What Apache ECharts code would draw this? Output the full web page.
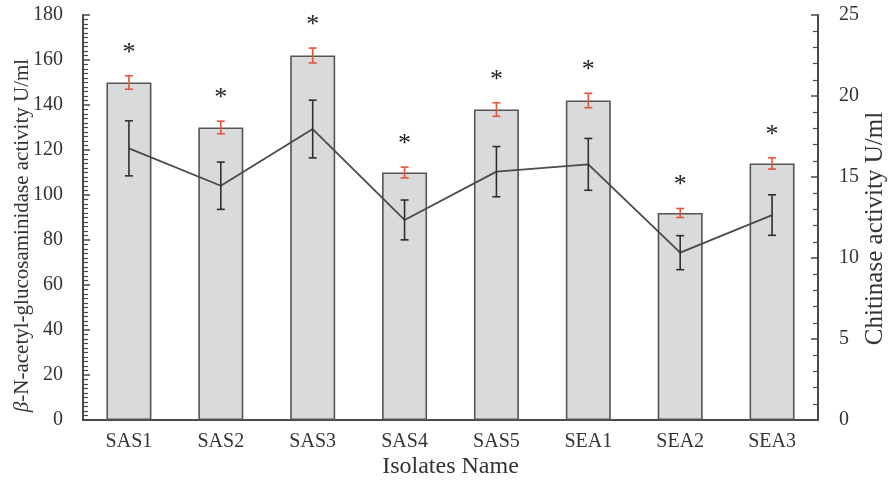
<!DOCTYPE html>
<html>
<head>
<meta charset="utf-8">
<script src="https://cdn.jsdelivr.net/npm/echarts@6/dist/echarts.min.js"></script>
<style>
  html, body { margin: 0; padding: 0; background: #fff; }
  #chart { width: 891px; height: 482px; }
</style>
</head>
<body>
<div id="chart"></div>
<script>
// Isolates and their enzyme activities (mean ± error)
const categories = ['SAS1', 'SAS2', 'SAS3', 'SAS4', 'SAS5', 'SEA1', 'SEA2', 'SEA3'];
const nagaseMean = [150, 130, 162, 110, 138, 142, 92, 114];
const nagaseErr = [3, 2.8, 3.3, 2.4, 3, 3.2, 2, 2.5];
const chitinaseMean = [16.77, 14.46, 17.96, 12.35, 15.33, 15.78, 10.33, 12.65];
const chitinaseErr = [1.7, 1.46, 1.78, 1.23, 1.55, 1.6, 1.05, 1.25];
const significance = ['*', '*', '*', '*', '*', '*', '*', '*'];
const leftTicks = { min: 0, max: 180, interval: 20 };
const rightTicks = { min: 0, max: 25, interval: 5 };

const FONT = '"Liberation Serif", "Times New Roman", serif';
const AXIS_COLOR = '#4a4a4a';
const TEXT_COLOR = '#333';

// Vertical error bar with caps; optional marker text above the upper cap
function errorBarRenderer(color, capHalf, marks) {
  return function (params, api) {
    const idx = api.value(0);
    const mean = api.value(1);
    const err = api.value(2);
    const hi = api.coord([idx, mean + err]);
    const lo = api.coord([idx, mean - err]);
    const style = { stroke: color, lineWidth: 1.6 };
    const children = [
      { type: 'line', shape: { x1: hi[0], y1: hi[1], x2: lo[0], y2: lo[1] }, style },
      { type: 'line', shape: { x1: hi[0] - capHalf, y1: hi[1], x2: hi[0] + capHalf, y2: hi[1] }, style },
      { type: 'line', shape: { x1: lo[0] - capHalf, y1: lo[1], x2: lo[0] + capHalf, y2: lo[1] }, style }
    ];
    if (marks) {
      children.push({
        type: 'text',
        x: hi[0],
        y: hi[1] - 10,
        style: {
          text: marks[params.dataIndex],
          font: '26px ' + FONT,
          fill: '#222',
          align: 'center',
          verticalAlign: 'bottom'
        }
      });
    }
    return { type: 'group', children };
  };
}

const chart = echarts.init(document.getElementById('chart'));

chart.setOption({
  backgroundColor: '#fff',
  animation: false,
  textStyle: { fontFamily: FONT },
  grid: { left: 83, right: 73, top: 15, bottom: 62, containLabel: false, outerBoundsMode: 'none' },
  xAxis: {
    type: 'category',
    data: categories,
    name: 'Isolates Name',
    nameLocation: 'middle',
    nameGap: 35,
    nameMoveOverlap: false,
    nameTextStyle: { fontFamily: FONT, fontSize: 24, color: TEXT_COLOR },
    axisLine: { lineStyle: { color: AXIS_COLOR, width: 2 } },
    axisTick: { show: false },
    axisLabel: { fontFamily: FONT, fontSize: 20, color: TEXT_COLOR, margin: 12 },
    splitLine: { show: false }
  },
  yAxis: [
    {
      type: 'value',
      min: leftTicks.min,
      max: leftTicks.max,
      interval: leftTicks.interval,
      position: 'left',
      name: '{it|β}-N-acetyl-glucosaminidase activity U/ml',
      nameLocation: 'middle',
      nameRotate: 90,
      nameGap: 50,
      nameMoveOverlap: false,
      nameTextStyle: {
        fontFamily: FONT, fontSize: 21, color: TEXT_COLOR,
        padding: [0, 36, 0, 0],
        rich: { it: { fontFamily: FONT, fontSize: 21, fontStyle: 'italic', color: TEXT_COLOR } }
      },
      axisLine: { show: true, lineStyle: { color: AXIS_COLOR, width: 2 } },
      axisTick: { show: true, inside: true, length: 7, lineStyle: { color: AXIS_COLOR, width: 1.5 } },
      minorTick: { show: true, splitNumber: 10, length: 5, lineStyle: { color: AXIS_COLOR, width: 1.2 } },
      axisLabel: { fontFamily: FONT, fontSize: 20, color: TEXT_COLOR, margin: 20 },
      splitLine: { show: false }
    },
    {
      type: 'value',
      min: rightTicks.min,
      max: rightTicks.max,
      interval: rightTicks.interval,
      position: 'right',
      name: 'Chitinase activity U/ml',
      nameLocation: 'middle',
      nameRotate: 90,
      nameGap: 45,
      nameMoveOverlap: false,
      nameTextStyle: { fontFamily: FONT, fontSize: 25, color: TEXT_COLOR, padding: [0, 22, 0, 0] },
      axisLine: { show: true, lineStyle: { color: AXIS_COLOR, width: 2 } },
      axisTick: { show: true, inside: true, length: 7, lineStyle: { color: AXIS_COLOR, width: 1.5 } },
      minorTick: { show: true, splitNumber: 5, length: 5, lineStyle: { color: AXIS_COLOR, width: 1.2 } },
      axisLabel: { fontFamily: FONT, fontSize: 20, color: TEXT_COLOR, margin: 21 },
      splitLine: { show: false }
    }
  ],
  series: [
    {
      name: 'β-N-acetyl-glucosaminidase',
      type: 'bar',
      yAxisIndex: 0,
      data: nagaseMean,
      barWidth: '49%',
      itemStyle: { color: '#d9dadc', borderColor: '#555', borderWidth: 1.6 },
      z: 2
    },
    {
      name: 'β-N-acetyl-glucosaminidase error',
      type: 'custom',
      yAxisIndex: 0,
      renderItem: errorBarRenderer('#e5553c', 4, significance),
      data: categories.map((c, i) => [i, nagaseMean[i], nagaseErr[i]]),
      z: 5
    },
    {
      name: 'Chitinase',
      type: 'line',
      yAxisIndex: 1,
      data: chitinaseMean,
      symbol: 'none',
      lineStyle: { color: '#4a4a4a', width: 1.8 },
      z: 3
    },
    {
      name: 'Chitinase error',
      type: 'custom',
      yAxisIndex: 1,
      renderItem: errorBarRenderer('#2f2f2f', 4, null),
      data: categories.map((c, i) => [i, chitinaseMean[i], chitinaseErr[i]]),
      z: 6
    }
  ]
});
</script>
</body>
</html>
